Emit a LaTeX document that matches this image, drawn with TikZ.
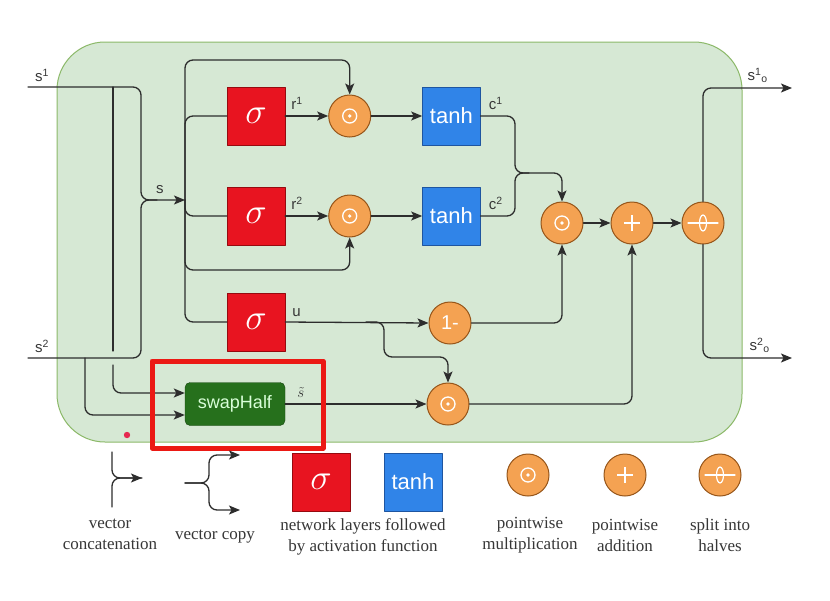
\RequirePackage{fix-cm}
\documentclass[tikz,border=0pt]{standalone}
\usepackage{fontspec}
\setsansfont{Liberation Sans}
\newfontfamily\legendfont{Liberation Serif}
\usetikzlibrary{arrows.meta,positioning}
\definecolor{panelfill}{RGB}{214,232,212}
\definecolor{paneldraw}{RGB}{140,185,105}
\definecolor{wirecol}{RGB}{45,45,45}
\definecolor{gatered}{RGB}{232,20,32}
\definecolor{gatereddraw}{RGB}{150,10,15}
\definecolor{tanhblue}{RGB}{48,132,232}
\definecolor{tanhbluedraw}{RGB}{30,85,160}
\definecolor{opfill}{RGB}{244,162,82}
\definecolor{opdraw}{RGB}{150,85,25}
\definecolor{swapgreen}{RGB}{38,112,28}
\definecolor{swapdraw}{RGB}{25,70,18}
\definecolor{hilite}{RGB}{235,25,20}
\definecolor{pointer}{RGB}{230,40,80}
\definecolor{labelgray}{RGB}{55,55,55}
\tikzset{every picture/.style={line cap=round, line join=round}}
\tikzset{panel/.style={draw=paneldraw, fill=panelfill, rounded corners=48pt, line width=1pt}}
\tikzset{gate/.style={draw=gatereddraw, fill=gatered, minimum size=58pt, inner sep=0pt,
  text=white, font=\fontsize{36}{36}\selectfont}}
\tikzset{actbox/.style={draw=tanhbluedraw, fill=tanhblue, minimum size=58pt, inner sep=0pt,
  text=white, font=\sffamily\fontsize{22}{22}\selectfont}}
\tikzset{swapbox/.style={draw=swapdraw, fill=swapgreen, rounded corners=5pt,
  minimum width=100pt, minimum height=43pt, inner sep=0pt,
  text=white!85!green, font=\sffamily\fontsize{18}{18}\selectfont}}
\tikzset{opcirc/.style={circle, draw=opdraw, fill=opfill, minimum size=42pt, inner sep=0pt,
  line width=1pt, text=white, font=\sffamily\fontsize{20}{20}\selectfont}}
\tikzset{mulop/.style={opcirc, path picture={
  \draw[white, line width=1.3pt] (path picture bounding box.center) circle (7pt);
  \fill[white] (path picture bounding box.center) circle (1.8pt);}}}
\tikzset{addop/.style={opcirc, path picture={
  \draw[white, line width=2.4pt, line cap=butt] ([xshift=-8pt]path picture bounding box.center) -- ([xshift=8pt]path picture bounding box.center);
  \draw[white, line width=2.4pt, line cap=butt] ([yshift=-8pt]path picture bounding box.center) -- ([yshift=8pt]path picture bounding box.center);}}}
\tikzset{splitop/.style={opcirc, path picture={
  \draw[white, line width=1.2pt] ([xshift=-15pt]path picture bounding box.center) -- ([xshift=15pt]path picture bounding box.center);
  \draw[white, line width=1.2pt] (path picture bounding box.center) ellipse (3.5pt and 8pt);}}}
\tikzset{wire/.style={draw=wirecol, line width=1.3pt, rounded corners=8pt}}
\tikzset{conn/.style={wire, -{Stealth[length=11pt, width=9pt, inset=2.5pt]}}}
\tikzset{lbl/.style={text=labelgray, inner sep=0pt, font=\sffamily\fontsize{15}{15}\selectfont}}
\tikzset{legend/.style={align=center, text=labelgray, font=\legendfont\fontsize{17}{21}\selectfont}}

\begin{document}
\begin{tikzpicture}[x=1pt, y=-1pt]
  \fill[white] (0,0) rectangle (830,600);
  \useasboundingbox (0,0) rectangle (830,600);

  % cell frame
  \node[panel, minimum width=685pt, minimum height=400pt] (panel) at (399.5,242) {};

  % gates and operations
  \node[gate] (sigA) at (256,116) {$\sigma$};
  \node[gate] (sigB) at (256,216) {$\sigma$};
  \node[gate] (sigU) at (256,322) {$\sigma$};
  \node[mulop, right=43pt of sigA] (mulA) {};
  \node[mulop, right=43pt of sigB] (mulB) {};
  \node[actbox, right=51pt of mulA] (tanhA) {tanh};
  \node[actbox, right=51pt of mulB] (tanhB) {tanh};
  \node[mulop] (mulC) at (562,223) {};
  \node[addop] (add) at (632,223) {};
  \node[splitop] (split) at (703,223) {};
  \node[opcirc] (oneminus) at (450,323) {1-};
  \node[mulop] (mulD) at (448,404) {};
  \node[swapbox] (swap) at (235,404) {swapHalf};

  % routing points
  \coordinate (in1) at (28,87);
  \coordinate (in2) at (28,358);
  \coordinate (cpA) at (113,87);
  \coordinate (cpAgap) at (113,351);
  \coordinate (cpAres) at (113,365);
  \coordinate (cpB) at (85,358);
  \coordinate (cat) at (141,200);
  \coordinate (bus) at (185,200);
  \coordinate (busTop) at (185,60);
  \coordinate (busLow) at (185,270);
  \coordinate (cm) at (515,173);
  \coordinate (ubr) at (366,322);
  \coordinate (udrop) at (384,357);
  \coordinate (out1) at (792,88);
  \coordinate (out2) at (792,358);

  % inputs
  \draw[conn] (in1) -| (cat) -- (bus);
  \draw[wire] (in2) -| (cat) -- ++(16,0);
  \draw[wire] (cpA) -- (cpAgap);
  \draw[conn] (cpAres) |- ([yshift=11pt]swap.west);
  \draw[conn] (cpB) |- ([yshift=-11pt]swap.west);
  \node[lbl, above right=5pt and 7pt of in1] (s1lbl) {s\textsuperscript{1}};
  \node[lbl, above right=5pt and 7pt of in2] (s2lbl) {s\textsuperscript{2}};
  \node[lbl, above right=6pt and 15pt of cat] (slbl) {s};

  % bus
  \draw[conn] (bus) -- (busTop) -| (mulA.north);
  \draw[wire] (bus) |- (sigA.west);
  \draw[wire] (bus) |- (sigB.west);
  \draw[conn] (bus) -- (busLow) -| (mulB.south);
  \draw[wire] (bus) |- (sigU.west);

  % reset branch
  \draw[conn] (sigA.east) -- (mulA.west);
  \draw[conn] (sigB.east) -- (mulB.west);
  \node[lbl, above right=6pt and 6pt of sigA.east] (r1lbl) {r\textsuperscript{1}};
  \node[lbl, above right=6pt and 6pt of sigB.east] (r2lbl) {r\textsuperscript{2}};
  \draw[conn] (mulA.east) -- (tanhA.west);
  \draw[conn] (mulB.east) -- (tanhB.west);
  \draw[conn] (tanhA.east) -| (cm) -| (mulC.north);
  \draw[wire] (tanhB.east) -| (cm) -- ++(14,0);
  \node[lbl, above right=6pt and 8pt of tanhA.east] (c1lbl) {c\textsuperscript{1}};
  \node[lbl, above right=6pt and 8pt of tanhB.east] (c2lbl) {c\textsuperscript{2}};

  % update branch
  \draw[conn] (sigU.east) -- (oneminus.west);
  \node[lbl, above right=5pt and 7pt of sigU.east] (ulbl) {u};
  \draw[conn] (ubr) -- (udrop |- ubr) -- (udrop) -| (mulD.north);
  \draw[conn] (oneminus.east) -| (mulC.south);
  \draw[conn] (swap.east) -- (mulD.west);
  \node[lbl, above right=6pt and 12pt of swap.east] (stlbl) {$\tilde{s}$};
  \draw[conn] (mulD.east) -| (add.south);

  % output
  \draw[conn] (mulC.east) -- (add.west);
  \draw[conn] (add.east) -- (split.west);
  \draw[conn] (split.north) |- (out1);
  \draw[conn] (split.south) |- (out2);
  \node[lbl, above left=5pt and 24pt of out1] (o1lbl) {s\textsuperscript{1}\textsubscript{o}};
  \node[lbl, above left=5pt and 22pt of out2] (o2lbl) {s\textsuperscript{2}\textsubscript{o}};

  % highlight
  \node[draw=hilite, line width=5pt, minimum width=171pt, minimum height=87pt] (focus) at (237.5,404.5) {};
  \fill[pointer] (127,435) circle (3.2pt);

  % legend
  \coordinate (catA) at (112,452);
  \coordinate (catB) at (112,507);
  \coordinate (catOut) at (142,478);
  \draw[conn] (catA) |- (catOut);
  \draw[wire] (catB) |- (catOut);
  \coordinate (cpyIn) at (185,483);
  \coordinate (cpyMid) at (209,483);
  \coordinate (cpyUp) at (240,455);
  \coordinate (cpyDn) at (240,510);
  \draw[conn] (cpyIn) -- (cpyMid) |- (cpyUp);
  \draw[conn] (cpyIn) -- (cpyMid) |- (cpyDn);
  \node[gate] (legSig) at (321,482) {$\sigma$};
  \node[actbox] (legTanh) at (413,482) {tanh};
  \node[mulop] (legMul) at (528,475) {};
  \node[addop] (legAdd) at (625,475) {};
  \node[splitop] (legSplit) at (720,475) {};
  \node[legend] (legCat) at (110,534) {vector\\concatenation};
  \node[legend] (legCpy) at (215,537) {vector copy};
  \node[legend] (legLay) at (363,537) {network layers followed\\by activation function};
  \node[legend] (legMulT) at (530,535) {pointwise\\multiplication};
  \node[legend] (legAddT) at (625,535) {pointwise\\addition};
  \node[legend] (legSplitT) at (720,535) {split into\\halves};
\end{tikzpicture}
\end{document}
